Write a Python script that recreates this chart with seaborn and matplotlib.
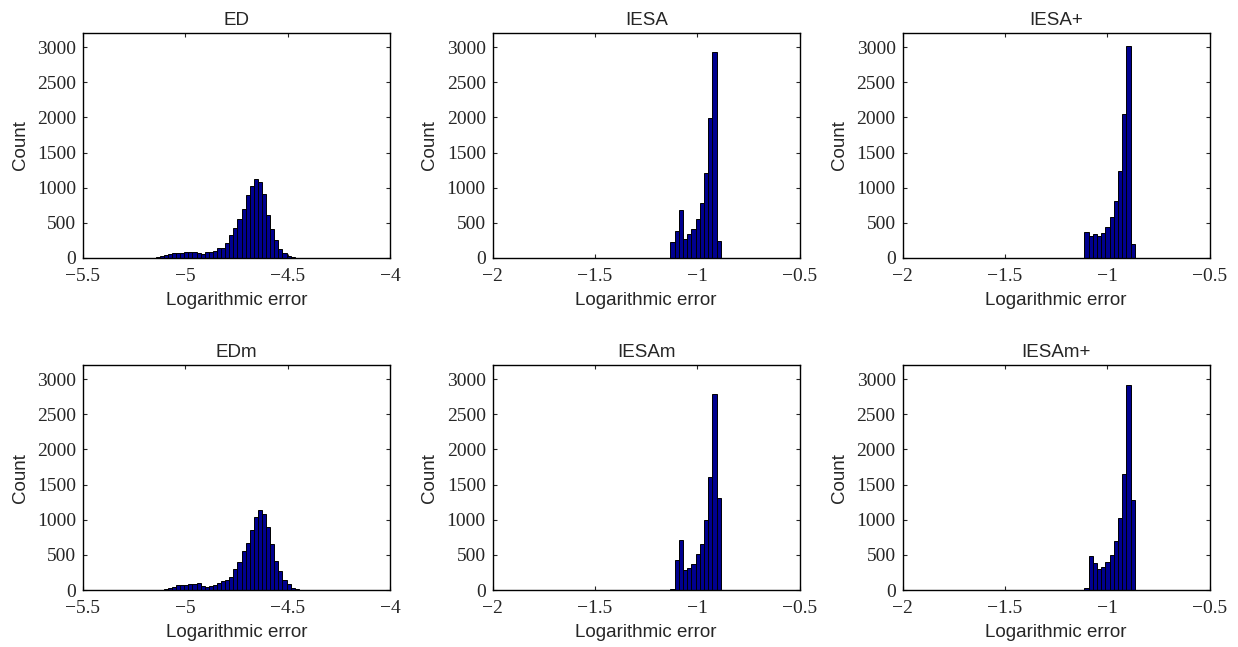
import matplotlib
matplotlib.use("Agg")
import matplotlib.pyplot as plt
import numpy as np
import pandas as pd
import seaborn as sns


# Panel titles, in reading order
titles = ["ED", "IESA", "IESA+", "EDm", "IESAm", "IESAm+"]

# Bin layout
ed_bin_start = -5.205
ed_bin_width = 0.02
iesa_bin_start = -1.193
iesa_bin_width = 0.0205

# Counts per bin (zero bins give the thick baseline)
ed_counts = [1, 2, 4, 10, 22, 40, 52, 74, 72, 76, 92, 92, 90, 68, 52, 85, 90,
             104, 147, 147, 218, 322, 422, 559, 701, 900, 1024, 1128, 1076,
             915, 607, 417, 256, 133, 71, 33, 14, 4, 0, 0, 0]
edm_counts = [0, 1, 1, 2, 5, 12, 24, 43, 66, 66, 66, 85, 85, 95, 60, 47, 62,
              71, 95, 133, 142, 190, 303, 398, 550, 664, 858, 1033, 1137, 1081,
              900, 654, 417, 275, 147, 85, 28, 14, 4, 0, 0]
iesa_counts = [0, 0, 0, 222, 383, 680, 269, 335, 416, 553, 789, 1214, 1985,
               2935, 236, 0, 0, 0, 0, 0]
iesa_plus_counts = [0, 0, 0, 0, 364, 312, 340, 312, 350, 439, 590, 812, 1238,
                    2055, 3020, 194, 0, 0, 0, 0]
iesam_counts = [0, 0, 0, 14, 425, 713, 279, 307, 364, 510, 661, 1001, 1615,
                2790, 1313, 0, 0, 0, 0, 0]
iesam_plus_counts = [0, 0, 0, 0, 24, 487, 378, 302, 321, 402, 496, 699, 1030,
                     1644, 2910, 1275, 0, 0, 0, 0]

# Axis ticks
ed_xticks = [-5.5, -5, -4.5, -4]
ed_xticklabels = ["\u22125.5", "\u22125", "\u22124.5", "\u22124"]
iesa_xticks = [-2, -1.5, -1, -0.5]
iesa_xticklabels = ["\u22122", "\u22121.5", "\u22121", "\u22120.5"]
yticks = [0, 500, 1000, 1500, 2000, 2500, 3000]

panels = [
    (titles[0], ed_counts, ed_bin_start, ed_bin_width, ed_xticks, ed_xticklabels),
    (titles[1], iesa_counts, iesa_bin_start, iesa_bin_width, iesa_xticks, iesa_xticklabels),
    (titles[2], iesa_plus_counts, iesa_bin_start, iesa_bin_width, iesa_xticks, iesa_xticklabels),
    (titles[3], edm_counts, ed_bin_start, ed_bin_width, ed_xticks, ed_xticklabels),
    (titles[4], iesam_counts, iesa_bin_start, iesa_bin_width, iesa_xticks, iesa_xticklabels),
    (titles[5], iesam_plus_counts, iesa_bin_start, iesa_bin_width, iesa_xticks, iesa_xticklabels),
]

sns.set_style("ticks")
plt.rcParams["font.family"] = ["Liberation Sans", "DejaVu Sans"]

fig, axes = plt.subplots(2, 3, figsize=(12.38, 6.47), dpi=100)
fig.subplots_adjust(left=0.067, right=0.977, bottom=0.088, top=0.949,
                    wspace=0.335, hspace=0.476)

for ax, (title, counts, start, width, xt, xl) in zip(axes.flat, panels):
    nbins = len(counts)
    df = pd.DataFrame({
        "value": start + width * (np.arange(nbins) + 0.5),
        "count": counts,
    })
    sns.histplot(data=df, x="value", weights="count", bins=nbins,
                 binrange=(start, start + width * nbins), color="#00008f",
                 edgecolor="black", linewidth=0.7, alpha=1, ax=ax)

    ax.set_xlim(xt[0], xt[-1])
    ax.set_ylim(0, 3200)
    ax.set_xticks(xt, xl)
    ax.set_yticks(yticks, [str(v) for v in yticks])
    for lab in ax.get_xticklabels() + ax.get_yticklabels():
        lab.set_fontfamily(["Liberation Serif", "DejaVu Serif"])
    ax.tick_params(direction="in", top=True, right=True, length=3,
                   width=0.8, labelsize=14)
    ax.tick_params(axis="x", pad=7)
    ax.tick_params(axis="y", pad=5)
    for sp in ax.spines.values():
        sp.set_visible(True)
        sp.set_linewidth(1.0)
        sp.set_color("black")

    ax.set_title(title, fontsize=13.5, pad=5.5)
    ax.set_xlabel("Logarithmic error", fontsize=13.5, labelpad=5)
    ax.set_ylabel("Count", fontsize=13.5, labelpad=6)

fig.savefig("out.png", dpi=100)
